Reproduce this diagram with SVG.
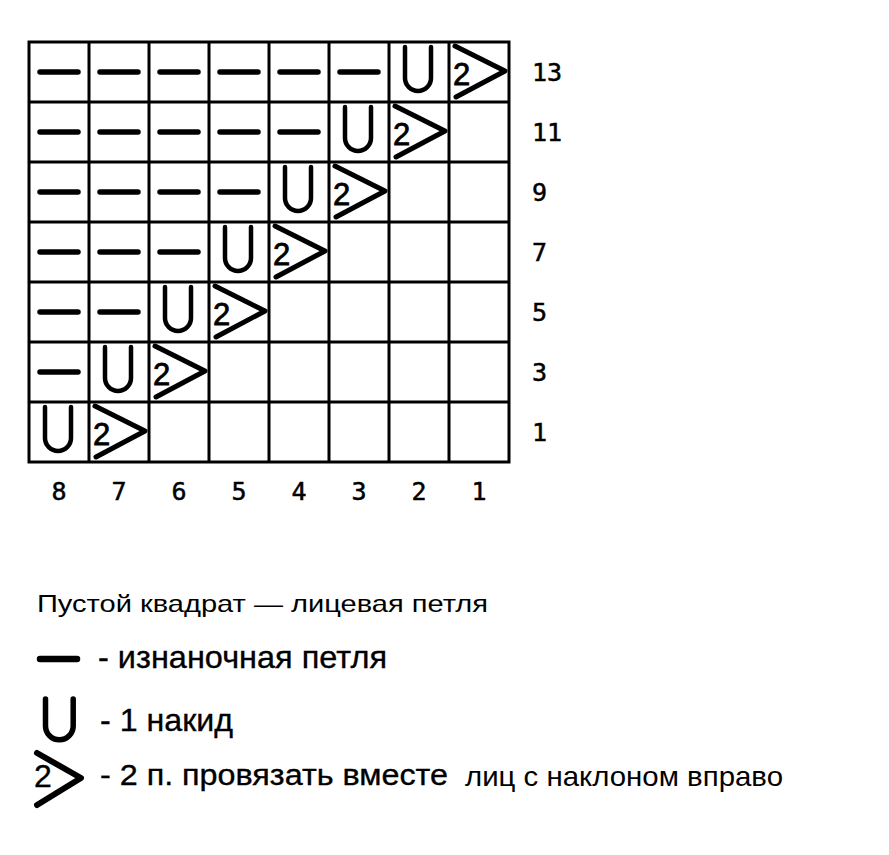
<svg xmlns="http://www.w3.org/2000/svg" xmlns:xlink="http://www.w3.org/1999/xlink" width="889" height="855" viewBox="0 0 889 855">
<style>
.grid{fill:none;stroke:#000;stroke-width:3}
.sym{fill:none;stroke:#000;stroke-linecap:round;stroke-linejoin:round}
.num{font-family:"DejaVu Sans Mono","Liberation Mono",monospace;font-size:25px;fill:#000;stroke:#000;stroke-width:0.5}
.two{font-family:"Liberation Sans",Arial,sans-serif;fill:#000;stroke:#000;stroke-width:0.8}
.leg{font-family:"Liberation Sans",Arial,sans-serif;fill:#000}
.med{stroke:#000;stroke-width:0.35}
</style>
<defs>
<g id="dash"><line class="sym" x1="11" y1="30" x2="49" y2="30" stroke-width="5.5"/></g>
<g id="yo"><path class="sym" d="M16 5 V36 A13 13 0 0 0 42 36 V5" stroke-width="4.5" stroke-linecap="butt"/></g>
<g id="k2"><polyline class="sym" points="6,4 56,29 7,55" stroke-width="5"/><text class="two" x="4" y="43" font-size="31">2</text></g>
</defs>
<rect width="889" height="855" fill="#fff"/>
<g id="grid">
<rect class="grid" x="29" y="42" width="480" height="420"/>
<path class="grid" d="M89 42V462M149 42V462M209 42V462M269 42V462M329 42V462M389 42V462M449 42V462M29 102H509M29 162H509M29 222H509M29 282H509M29 342H509M29 402H509"/>
</g>
<g id="row13">
<use xlink:href="#dash" x="29" y="42"/><use xlink:href="#dash" x="89" y="42"/><use xlink:href="#dash" x="149" y="42"/><use xlink:href="#dash" x="209" y="42"/><use xlink:href="#dash" x="269" y="42"/><use xlink:href="#dash" x="329" y="42"/>
<use xlink:href="#yo" x="389" y="42"/><use xlink:href="#k2" x="449" y="42"/>
</g>
<g id="row11">
<use xlink:href="#dash" x="29" y="102"/><use xlink:href="#dash" x="89" y="102"/><use xlink:href="#dash" x="149" y="102"/><use xlink:href="#dash" x="209" y="102"/><use xlink:href="#dash" x="269" y="102"/>
<use xlink:href="#yo" x="329" y="102"/><use xlink:href="#k2" x="389" y="102"/>
</g>
<g id="row9">
<use xlink:href="#dash" x="29" y="162"/><use xlink:href="#dash" x="89" y="162"/><use xlink:href="#dash" x="149" y="162"/><use xlink:href="#dash" x="209" y="162"/>
<use xlink:href="#yo" x="269" y="162"/><use xlink:href="#k2" x="329" y="162"/>
</g>
<g id="row7">
<use xlink:href="#dash" x="29" y="222"/><use xlink:href="#dash" x="89" y="222"/><use xlink:href="#dash" x="149" y="222"/>
<use xlink:href="#yo" x="209" y="222"/><use xlink:href="#k2" x="269" y="222"/>
</g>
<g id="row5">
<use xlink:href="#dash" x="29" y="282"/><use xlink:href="#dash" x="89" y="282"/>
<use xlink:href="#yo" x="149" y="282"/><use xlink:href="#k2" x="209" y="282"/>
</g>
<g id="row3">
<use xlink:href="#dash" x="29" y="342"/>
<use xlink:href="#yo" x="89" y="342"/><use xlink:href="#k2" x="149" y="342"/>
</g>
<g id="row1">
<use xlink:href="#yo" x="29" y="402"/><use xlink:href="#k2" x="89" y="402"/>
</g>
<g id="row-labels">
<text class="num" x="532" y="81">13</text>
<text class="num" x="532" y="141">11</text>
<text class="num" x="532" y="201">9</text>
<text class="num" x="532" y="261">7</text>
<text class="num" x="532" y="321">5</text>
<text class="num" x="532" y="381">3</text>
<text class="num" x="532" y="441">1</text>
</g>
<g id="col-labels" text-anchor="middle">
<text class="num" x="59" y="500">8</text>
<text class="num" x="119" y="500">7</text>
<text class="num" x="179" y="500">6</text>
<text class="num" x="239" y="500">5</text>
<text class="num" x="299" y="500">4</text>
<text class="num" x="359" y="500">3</text>
<text class="num" x="419" y="500">2</text>
<text class="num" x="479" y="500">1</text>
</g>
<g id="legend">
<text class="leg" x="37" y="612" font-size="24" textLength="451" lengthAdjust="spacingAndGlyphs">Пустой квадрат — лицевая петля</text>
<line class="sym" x1="40" y1="659" x2="77" y2="659" stroke-width="6.5"/>
<text class="leg med" x="98" y="668" font-size="32" textLength="289" lengthAdjust="spacingAndGlyphs">- изнаночная петля</text>
<path class="sym" d="M45.5 699 V726 A13.85 13.85 0 0 0 73.2 726 V699" stroke-width="5.5" stroke-linecap="butt"/>
<text class="leg med" x="100" y="731" font-size="32" textLength="133" lengthAdjust="spacingAndGlyphs">- 1 накид</text>
<polyline class="sym" points="37,753 81,778 37,805" stroke-width="6"/>
<text class="leg med" x="34" y="787" font-size="32">2</text>
<text class="leg med" x="100" y="785" font-size="30" textLength="348" lengthAdjust="spacingAndGlyphs">- 2 п. провязать вместе</text>
<text class="leg" x="465" y="786" font-size="28" textLength="318" lengthAdjust="spacingAndGlyphs">лиц с наклоном вправо</text>
</g>
</svg>
